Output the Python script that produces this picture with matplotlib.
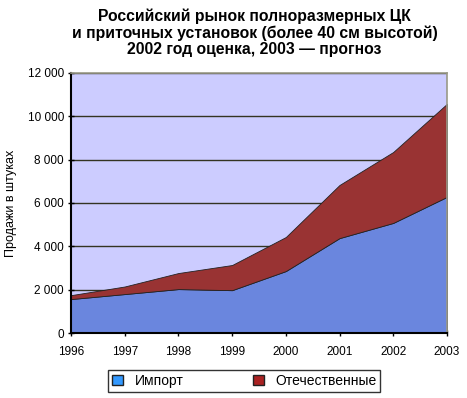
import matplotlib.pyplot as plt
from matplotlib.patches import Patch

years = [1996, 1997, 1998, 1999, 2000, 2001, 2002, 2003]
import_units = [1570, 1800, 2030, 1980, 2860, 4380, 5080, 6280]
total_units = [1750, 2150, 2770, 3140, 4430, 6830, 8350, 10570]
domestic_units = [t - i for t, i in zip(total_units, import_units)]
y_ticks = [0, 2000, 4000, 6000, 8000, 10000, 12000]
y_tick_labels = ['0', '2 000', '4 000', '6 000', '8 000', '10 000', '12 000']

plt.rcParams['font.family'] = ['Liberation Sans', 'DejaVu Sans']

fig = plt.figure(figsize=(4.67, 3.98), dpi=100)
ax = fig.add_axes([0.152, 0.163, 0.805, 0.654])
ax.set_facecolor('#ccccff')

ax.stackplot(years, import_units, domestic_units,
             colors=['#6a86de', '#993333'], edgecolor='#222222', linewidth=0.6)

ax.set_xlim(1996, 2003)
ax.set_ylim(0, 12000)
ax.set_xticks(years)
ax.set_xticklabels([str(y) for y in years], fontsize=8.5)
ax.set_yticks(y_ticks)
ax.set_yticklabels(y_tick_labels, fontsize=8.5)
ax.tick_params(axis='x', direction='inout', length=4, width=1, pad=7)
ax.tick_params(axis='y', direction='inout', length=4, width=1, pad=3)
ax.grid(axis='y', color='#333322', linewidth=1)
ax.set_axisbelow(True)

for s in ['top', 'right']:
    ax.spines[s].set_color('#999988')
    ax.spines[s].set_linewidth(1.2)
for s in ['left', 'bottom']:
    ax.spines[s].set_color('black')
    ax.spines[s].set_linewidth(1.5)

ax.set_ylabel('Продажи в штуках', fontsize=9, labelpad=8)

fig.suptitle('Российский рынок полноразмерных ЦК\n'
             'и приточных установок (более 40 см высотой)\n'
             '2002 год оценка, 2003 — прогноз',
             fontsize=11.3, fontweight='bold', x=0.545, y=0.978, linespacing=1.1)

handles = [Patch(facecolor='#3399ff', edgecolor='#222222', label='Импорт'),
           Patch(facecolor='#aa2222', edgecolor='#222222', label='Отечественные')]
leg = fig.legend(handles=handles, loc='center', bbox_to_anchor=(0.523, 0.043),
                 ncol=2, fontsize=10, frameon=True, fancybox=False,
                 handlelength=0.8, handleheight=0.8, columnspacing=5,
                 borderpad=0.3, edgecolor='black')
leg.get_frame().set_linewidth(1)

fig.savefig('out.png', dpi=100)
